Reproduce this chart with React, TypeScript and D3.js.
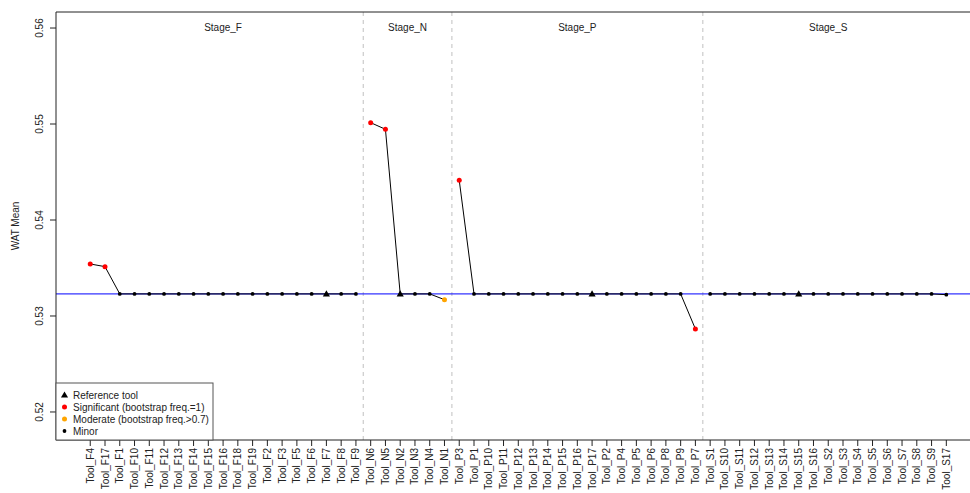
import React from "react";
import * as d3 from "d3";

const stages = ["Stage_F", "Stage_N", "Stage_P", "Stage_S"];

const toolsF = ["Tool_F4","Tool_F17","Tool_F1","Tool_F10","Tool_F11","Tool_F12","Tool_F13","Tool_F14","Tool_F15","Tool_F16","Tool_F18","Tool_F19","Tool_F2","Tool_F3","Tool_F5","Tool_F6","Tool_F7","Tool_F8","Tool_F9"];
const valuesF = [0.53542,0.53514,0.5323,0.5323,0.5323,0.5323,0.5323,0.5323,0.5323,0.5323,0.5323,0.5323,0.5323,0.5323,0.5323,0.5323,0.5323,0.5323,0.5323];
const typesF = ["sig","sig","minor","minor","minor","minor","minor","minor","minor","minor","minor","minor","minor","minor","minor","minor","ref","minor","minor"];

const toolsN = ["Tool_N6","Tool_N5","Tool_N2","Tool_N3","Tool_N4","Tool_N1"];
const valuesN = [0.55014,0.54945,0.5323,0.5323,0.5323,0.5317];
const typesN = ["sig","sig","ref","minor","minor","mod"];

const toolsP = ["Tool_P3","Tool_P1","Tool_P10","Tool_P11","Tool_P12","Tool_P13","Tool_P14","Tool_P15","Tool_P16","Tool_P17","Tool_P2","Tool_P4","Tool_P5","Tool_P6","Tool_P8","Tool_P9","Tool_P7"];
const valuesP = [0.54413,0.5323,0.5323,0.5323,0.5323,0.5323,0.5323,0.5323,0.5323,0.5323,0.5323,0.5323,0.5323,0.5323,0.5323,0.5323,0.52865];
const typesP = ["sig","minor","minor","minor","minor","minor","minor","minor","minor","ref","minor","minor","minor","minor","minor","minor","sig"];

const toolsS = ["Tool_S1","Tool_S10","Tool_S11","Tool_S12","Tool_S13","Tool_S14","Tool_S15","Tool_S16","Tool_S2","Tool_S3","Tool_S4","Tool_S5","Tool_S6","Tool_S7","Tool_S8","Tool_S9","Tool_S17"];
const valuesS = [0.5323,0.5323,0.5323,0.5323,0.5323,0.5323,0.5323,0.5323,0.5323,0.5323,0.5323,0.5323,0.5323,0.5323,0.5323,0.5323,0.53222];
const typesS = ["minor","minor","minor","minor","minor","minor","ref","minor","minor","minor","minor","minor","minor","minor","minor","minor","minor"];

const referenceValue = 0.5323;
const yTicks = [0.52, 0.53, 0.54, 0.55, 0.56];
const legendLabels = ["Reference tool", "Significant (bootstrap freq.=1)", "Moderate (bootstrap freq.>0.7)", "Minor"];
const legendTypes = ["ref", "sig", "mod", "minor"];

const colorOf: Record<string, string> = { ref: "#000000", sig: "#ff0000", mod: "#ffa500", minor: "#000000" };

const FONT = "'Liberation Sans', Arial, sans-serif";

export default function App() {
  const W = 970, H = 493;
  const left = 56, top = 12, bottom = 440;
  const groups = [
    { name: stages[0], tools: toolsF, values: valuesF, types: typesF },
    { name: stages[1], tools: toolsN, values: valuesN, types: typesN },
    { name: stages[2], tools: toolsP, values: valuesP, types: typesP },
    { name: stages[3], tools: toolsS, values: valuesS, types: typesS },
  ];
  let idx = 0;
  const points: { tool: string; value: number; type: string; i: number; g: number }[] = [];
  const groupRanges: { name: string; start: number; end: number }[] = [];
  groups.forEach((g, gi) => {
    const start = idx + 1;
    g.tools.forEach((t, k) => {
      idx += 1;
      points.push({ tool: t, value: g.values[k], type: g.types[k], i: idx, g: gi });
    });
    groupRanges.push({ name: g.name, start, end: idx });
  });
  const n = idx;
  const ext = (n - 1) * 0.04;
  const unit = 14.76;
  const right = left + (n - 1 + 2 * ext) * unit;
  const x = d3.scaleLinear().domain([1 - ext, n + ext]).range([left, right]);
  const y = d3.scaleLinear().domain([0.51708, 0.56167]).range([bottom, top]);
  const line = d3.line<{ i: number; value: number }>().x((d) => x(d.i)).y((d) => y(d.value));
  const tri = d3.symbol().type(d3.symbolTriangle).size(22);

  const marker = (type: string, cx: number, cy: number, key: string) => {
    if (type === "ref") {
      return <path key={key} d={tri() as string} transform={`translate(${cx},${cy + 0.5})`} fill="#000" />;
    }
    const r = type === "minor" ? 1.9 : 2.5;
    return <circle key={key} cx={cx} cy={cy} r={r} fill={colorOf[type]} />;
  };

  return (
    <svg width={W} height={H} style={{ position: "absolute", left: 0, top: 0, display: "block", background: "#fff" }} fontFamily={FONT}>
      {groupRanges.slice(0, -1).map((g, k) => (
        <line key={`sep${k}`} x1={x(g.end + 0.5)} x2={x(g.end + 0.5)} y1={top} y2={bottom} stroke="#cfcfcf" strokeWidth={1.3} strokeDasharray="4,4" />
      ))}
      {groupRanges.map((g, k) => (
        <text key={`st${k}`} x={x((g.start + g.end) / 2)} y={31} textAnchor="middle" fontSize={10} fill="#222">{g.name}</text>
      ))}
      <line x1={left} x2={right} y1={y(referenceValue)} y2={y(referenceValue)} stroke="#0000ff" strokeWidth={1} />
      {groupRanges.map((g, k) => (
        <path key={`ln${k}`} d={line(points.filter((p) => p.g === k)) as string} fill="none" stroke="#000" strokeWidth={1} />
      ))}
      {points.map((p) => marker(p.type, x(p.i), y(p.value), `pt${p.i}`))}
      <line x1={left} x2={left} y1={top} y2={bottom} stroke="#222" strokeWidth={1} />
      <line x1={left} x2={right} y1={top} y2={top} stroke="#222" strokeWidth={1} />
      <line x1={left} x2={right} y1={bottom} y2={bottom} stroke="#222" strokeWidth={1} />
      {yTicks.map((t) => (
        <g key={`yt${t}`}>
          <line x1={left} x2={left - 6} y1={y(t)} y2={y(t)} stroke="#222" />
          <text transform={`translate(${43},${y(t)}) rotate(-90)`} textAnchor="middle" fontSize={10} fill="#222">{t.toFixed(2)}</text>
        </g>
      ))}
      <text transform={`translate(${19},${(top + bottom) / 2}) rotate(-90)`} textAnchor="middle" fontSize={10} fill="#222">WAT Mean</text>
      {points.map((p) => (
        <g key={`xt${p.i}`}>
          <line x1={x(p.i)} x2={x(p.i)} y1={bottom} y2={bottom + 6} stroke="#222" />
          <text transform={`translate(${x(p.i) + 3.5},${bottom + 8}) rotate(-90)`} textAnchor="end" fontSize={10} fill="#222">{p.tool}</text>
        </g>
      ))}
      <rect x={left} y={383} width={157} height={bottom - 383} fill="#fff" stroke="#555" strokeWidth={1} />
      {legendLabels.map((lab, k) => (
        <g key={`lg${k}`}>
          {marker(legendTypes[k], 64.5, 395 + k * 12, `lm${k}`)}
          <text x={73} y={395 + k * 12 + 3.5} fontSize={10} fill="#222">{lab}</text>
        </g>
      ))}
    </svg>
  );
}
